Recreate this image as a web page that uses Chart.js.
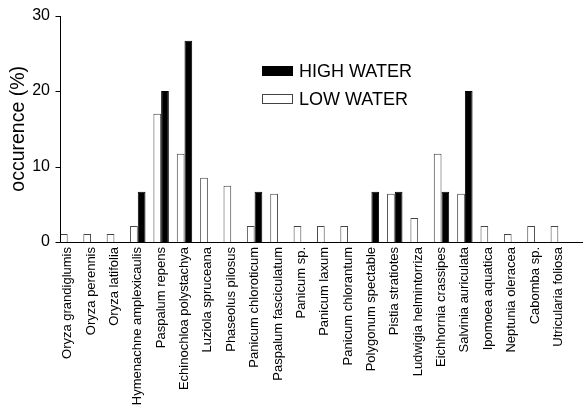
<!DOCTYPE html>
<html lang="en">
<head>
  <meta charset="UTF-8">
  <title>Occurrence of macrophytes</title>
  <script src="https://cdn.jsdelivr.net/npm/chart.js@4"></script>
  <style>
    body { margin: 0; background: #fff; }
    #wrap { width: 585px; height: 407px; }
  </style>
</head>
<body>
  <div id="wrap"><canvas id="chart" width="585" height="407"></canvas></div>
  <script>
    // species along the x axis
    const species = [
      'Oryza grandiglumis', 'Oryza perennis', 'Oryza latifolia', 'Hymenachne amplexicaulis',
      'Paspalum repens', 'Echinochloa polystachya', 'Luziola spruceana', 'Phaseolus pilosus',
      'Panicum chloroticum', 'Paspalum fasciculatum', 'Panicum sp.', 'Panicum laxum',
      'Panicum chlorantum', 'Polygonum spectable', 'Pistia stratiotes', 'Ludwigia helmintorriza',
      'Eichhornia crassipes', 'Salvinia auriculata', 'Ipomoea aquatica', 'Neptunia oleracea',
      'Cabomba sp.', 'Utricularia foliosa'
    ];

    // occurence (%) per period
    const lowWater = [1.06, 1.06, 1.06, 2.13, 17.0, 11.7, 8.51, 7.45, 2.13, 6.38, 2.13, 2.13,
                      2.13, 0, 6.38, 3.19, 11.7, 6.38, 2.13, 1.06, 2.13, 2.13];
    const highWater = [0, 0, 0, 6.67, 20.0, 26.67, 0, 0, 6.67, 0, 0, 0,
                       0, 6.67, 6.67, 0, 6.67, 20.0, 0, 0, 0, 0];

    const yTicks = [0, 10, 20, 30];
    const catPct = 0.66;

    // axis lines sit on the left edge of the first bar group, like the original figure
    const axesPlugin = {
      id: 'axes',
      afterDraw(chart) {
        const { ctx, scales } = chart;
        const x = scales.x, y = scales.y;
        const step = x.width / species.length;
        const ax = Math.round(x.getPixelForValue(0) - step * catPct / 2) + 0.5;
        const y0 = Math.round(y.getPixelForValue(0)) + 0.5;
        ctx.save();
        ctx.strokeStyle = '#000';
        ctx.lineWidth = 1;
        ctx.beginPath();
        ctx.moveTo(ax, Math.round(y.getPixelForValue(30)));
        ctx.lineTo(ax, y0);
        ctx.lineTo(583, y0);
        yTicks.forEach(v => {
          const py = Math.round(y.getPixelForValue(v)) + 0.5;
          ctx.moveTo(ax - 5, py);
          ctx.lineTo(ax, py);
        });
        ctx.stroke();
        ctx.restore();
      }
    };

    const legendPlugin = {
      id: 'boxLegend',
      afterDraw(chart) {
        const ctx = chart.ctx;
        const items = [chart.data.datasets[1], chart.data.datasets[0]];
        ctx.save();
        ctx.font = '18px Arial, "Liberation Sans", sans-serif';
        ctx.textBaseline = 'alphabetic';
        items.forEach((ds, i) => {
          const top = 66 + i * 28;
          ctx.fillStyle = ds.backgroundColor;
          ctx.fillRect(262, top, 31, 10);
          ctx.strokeStyle = ds.borderColor;
          ctx.lineWidth = 1;
          ctx.strokeRect(262.5, top + 0.5, 30, 9);
          ctx.fillStyle = '#000';
          ctx.fillText(ds.label, 299, top + 11);
        });
        ctx.restore();
      }
    };

    Chart.defaults.font.family = 'Arial, "Liberation Sans", sans-serif';
    Chart.defaults.color = '#000';

    new Chart(document.getElementById('chart'), {
      type: 'bar',
      data: {
        labels: species,
        datasets: [
          { label: 'LOW WATER', data: lowWater, backgroundColor: '#fff', borderColor: '#444', borderWidth: 1 },
          { label: 'HIGH WATER', data: highWater, backgroundColor: '#000', borderColor: '#000', borderWidth: 1 }
        ]
      },
      options: {
        responsive: false,
        devicePixelRatio: 1,
        animation: false,
        categoryPercentage: catPct,
        barPercentage: 1,
        layout: { padding: { top: 14, right: 15, left: 0, bottom: 0 } },
        plugins: { legend: { display: false }, tooltip: { enabled: false } },
        scales: {
          x: {
            grid: { display: false, drawTicks: false },
            border: { display: false },
            ticks: { autoSkip: false, minRotation: 90, maxRotation: 90, padding: 5, font: { size: 13 } },
            afterFit(scale) { scale.height = 165; }
          },
          y: {
            min: 0,
            max: 30,
            grid: { display: false, drawTicks: false },
            border: { display: false },
            afterBuildTicks(scale) { scale.ticks = yTicks.map(v => ({ value: v })); },
            ticks: { padding: 6, font: { size: 16 } },
            title: { display: true, text: 'occurence (%)', font: { size: 19.5 }, padding: { top: 7, bottom: 0 } },
            afterFit(scale) { scale.width = 56; }
          }
        }
      },
      plugins: [axesPlugin, legendPlugin]
    });
  </script>
</body>
</html>
